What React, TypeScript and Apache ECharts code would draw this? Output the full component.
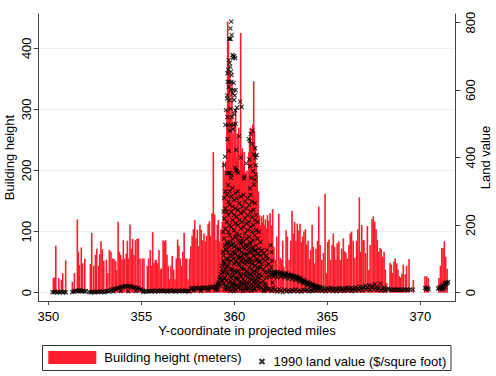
import React, { useEffect, useRef } from "react";
import * as echarts from "echarts";

// ---------- ticks ----------
const xTicks = [350, 355, 360, 365, 370];
const leftTicks = [0, 100, 200, 300, 400];
const rightTicks = [0, 200, 400, 600, 800];

// ---------- building height bars [y-coordinate, height] ----------
const buildingWest: number[][] = [
  [350.27, 24], [350.33, 25], [350.40, 77], [350.56, 24], [350.70, 21], [350.77, 32], [350.93, 53],
  [351.29, 18], [351.40, 32], [351.56, 120], [351.61, 67], [351.67, 45], [351.77, 74], [351.84, 48], [351.96, 56],
  [352.26, 47], [352.33, 98], [352.44, 44], [352.53, 62], [352.60, 72], [352.71, 44], [352.76, 63], [352.83, 84],
  [352.90, 71], [352.98, 52], [353.12, 54], [353.19, 32], [353.28, 70], [353.37, 67], [353.46, 56], [353.53, 55],
  [353.62, 52], [353.67, 37], [353.75, 116], [353.82, 67], [353.89, 62], [353.96, 54], [354.03, 86], [354.10, 56],
  [354.19, 64], [354.25, 85], [354.32, 56], [354.39, 111], [354.46, 72], [354.53, 88], [354.60, 62], [354.68, 86],
  [354.77, 88], [354.84, 89], [354.93, 56], [355.05, 56], [355.14, 56], [355.32, 44], [355.39, 56], [355.48, 70],
  [355.55, 44], [355.61, 99], [355.68, 48], [355.75, 53], [355.80, 54], [355.88, 48], [355.95, 70], [356.02, 38],
  [356.08, 40], [356.17, 86], [356.24, 84], [356.31, 86], [356.38, 62], [356.45, 44], [356.52, 22], [356.59, 44],
  [356.66, 60], [356.74, 38], [356.81, 22], [356.88, 56], [356.95, 87], [357.02, 77], [357.09, 56], [357.16, 44],
  [357.23, 67], [357.30, 98], [357.37, 56], [357.44, 56], [357.51, 22], [357.59, 56], [357.66, 76], [357.73, 93],
  [357.80, 104], [357.87, 119], [357.94, 89], [358.01, 103], [358.08, 76], [358.15, 111], [358.22, 103], [358.30, 86],
  [358.37, 97], [358.44, 84], [358.51, 93], [358.59, 113], [358.66, 117], [358.73, 93], [358.80, 130], [358.87, 230],
  [358.94, 128], [359.01, 86], [359.08, 111], [359.14, 119], [359.21, 84], [359.28, 103], [359.35, 116], [359.41, 215],
];

const buildingCore: number[][] = [
  [359.45, 190], [359.50, 200], [359.55, 215], [359.60, 300], [359.64, 444], [359.68, 411], [359.72, 330],
  [359.76, 360], [359.80, 290], [359.84, 204], [359.87, 345], [359.91, 260], [359.95, 230], [359.99, 280],
  [360.03, 250], [360.07, 300], [360.11, 220], [360.15, 260], [360.19, 240], [360.24, 270], [360.28, 200],
  [360.34, 425], [360.38, 230], [360.43, 237], [360.48, 210], [360.53, 230], [360.58, 198], [360.63, 185],
  [360.68, 200], [360.73, 190], [360.78, 230], [360.82, 255], [360.86, 270], [360.92, 240], [360.99, 275],
  [361.04, 346], [361.08, 264], [361.13, 240], [361.18, 209], [361.23, 190], [361.29, 166], [361.35, 127],
  [361.40, 110], [361.46, 125], [361.51, 115], [361.56, 127], [361.62, 110], [361.67, 120], [361.72, 105],
  [361.78, 127], [361.84, 118],
];

const buildingEast: number[][] = [
  [361.92, 130], [361.99, 110], [362.06, 137], [362.13, 75], [362.20, 54], [362.28, 92], [362.39, 129],
  [362.46, 57], [362.53, 54], [362.60, 85], [362.66, 43], [362.78, 102], [362.85, 92], [362.94, 54], [363.03, 85],
  [363.10, 134], [363.17, 97], [363.24, 116], [363.31, 85], [363.38, 113], [363.46, 102], [363.53, 113],
  [363.60, 83], [363.67, 92], [363.74, 100], [363.82, 104], [363.89, 79], [363.96, 85], [364.03, 55], [364.10, 70],
  [364.18, 111], [364.25, 75], [364.32, 48], [364.39, 72], [364.47, 85], [364.54, 141], [364.61, 78], [364.70, 54],
  [364.79, 65], [364.88, 162], [364.95, 32], [365.02, 83], [365.09, 87], [365.16, 54], [365.25, 78], [365.32, 97],
  [365.39, 75], [365.46, 54], [365.53, 81], [365.62, 84], [365.69, 54], [365.77, 72], [365.86, 89], [365.93, 68],
  [366.00, 65], [366.07, 56], [366.16, 78], [366.23, 97], [366.30, 100], [366.39, 85], [366.48, 57], [366.57, 85],
  [366.64, 104], [366.72, 156], [366.79, 67], [366.85, 111], [366.92, 86], [366.97, 86], [367.06, 65], [367.15, 109],
  [367.23, 37], [367.30, 78], [367.40, 120], [367.47, 125], [367.55, 116], [367.62, 104], [367.69, 86], [367.76, 67],
  [367.83, 73], [367.90, 71], [367.98, 59], [368.05, 67], [368.12, 38], [368.19, 16], [368.37, 49], [368.44, 46],
  [368.51, 32], [368.58, 51], [368.65, 56], [368.73, 48], [368.80, 38], [368.87, 27], [368.94, 25], [369.01, 31],
  [369.08, 46], [369.19, 30], [369.26, 44], [369.39, 55], [369.62, 21], [370.25, 27], [370.34, 27], [370.43, 24],
  [371.00, 24], [371.08, 44], [371.15, 73], [371.22, 73], [371.29, 84], [371.36, 59], [371.44, 39],
];

// ---------- 1990 land value points [y-coordinate, $/sq ft] ----------
const landWest: number[][] = [
  [350.22, 2], [350.30, 1], [350.38, 3], [350.46, 1], [350.54, 2], [350.62, 1], [350.70, 3], [350.78, 1], [350.86, 2], [350.94, 1],
  [351.28, 2], [351.36, 3], [351.44, 5], [351.52, 6], [351.58, 4], [351.64, 7], [351.70, 5], [351.76, 6], [351.82, 4], [351.88, 6], [351.95, 3], [352.02, 5],
  [352.20, 2], [352.28, 1], [352.36, 3], [352.44, 2], [352.52, 1], [352.60, 3], [352.68, 2], [352.76, 4], [352.84, 2], [352.92, 3], [353.00, 1], [353.08, 4], [353.16, 5], [353.24, 3],
  [353.32, 6], [353.40, 8], [353.48, 10], [353.56, 12], [353.64, 9], [353.72, 14], [353.80, 13], [353.88, 16], [353.96, 18], [354.04, 17], [354.12, 20], [354.20, 19],
  [354.28, 18], [354.36, 20], [354.44, 17], [354.52, 18], [354.60, 15], [354.68, 16], [354.76, 12], [354.84, 14], [354.92, 10], [355.00, 9], [355.08, 6], [355.16, 5], [355.24, 4],
  [353.50, 3], [353.90, 5], [354.30, 4], [354.70, 5], [355.10, 2],
  [355.34, 3], [355.42, 5], [355.50, 4], [355.58, 6], [355.66, 5], [355.74, 3], [355.82, 6], [355.90, 4], [355.98, 5], [356.06, 7], [356.14, 5], [356.22, 4], [356.30, 6],
  [356.38, 3], [356.46, 5], [356.54, 7], [356.62, 4], [356.70, 6], [356.78, 5], [356.86, 3], [356.94, 6], [357.02, 4], [357.10, 5], [357.18, 7], [357.26, 5], [357.34, 4], [357.42, 6], [357.50, 5], [357.58, 3],
  [357.66, 12], [357.74, 14], [357.82, 10], [357.90, 13], [357.98, 15], [358.06, 11], [358.14, 14], [358.22, 12], [358.30, 16], [358.38, 13], [358.46, 15], [358.54, 12],
  [358.62, 14], [358.70, 17], [358.78, 15], [358.86, 18], [358.94, 14], [359.02, 20], [359.10, 25], [359.18, 30], [357.80, 6], [358.20, 5], [358.60, 7], [359.00, 8],
  [359.20, 40], [359.28, 55], [359.34, 70], [359.36, 35], [359.40, 95],
  [359.05, 15], [359.12, 10], [359.15, 28], [359.22, 20], [359.25, 45], [359.30, 35], [359.32, 80], [359.35, 60], [359.38, 120], [359.40, 180], [359.42, 240],
];

const landCoreHigh: number[][] = [
  [359.83, 803], [359.79, 783], [359.86, 764], [359.72, 752], [359.80, 752], [359.76, 752],
  [360.00, 701], [359.93, 695], [359.70, 689], [359.95, 700], [360.05, 695], [359.90, 705],
  [359.75, 680], [359.67, 660], [359.62, 650], [359.85, 645], [359.78, 670], [359.82, 655],
  [359.64, 625], [359.73, 625], [359.85, 625], [359.96, 622], [359.70, 610], [359.81, 600], [359.96, 600], [360.07, 600], [359.91, 590],
  [359.62, 585], [359.74, 570], [360.02, 585], [359.61, 575], [359.99, 571], [360.31, 566], [360.39, 551], [360.14, 548], [359.55, 541],
  [359.62, 520], [359.98, 530], [360.05, 540], [359.80, 545], [359.88, 520],
  [359.52, 497], [359.66, 497], [359.82, 497], [359.96, 497], [360.07, 500], [359.75, 480], [359.93, 485], [360.26, 464], [359.62, 455],
  [360.98, 480], [360.88, 470], [360.84, 450], [360.78, 455], [360.95, 440], [361.05, 410], [361.00, 360], [360.90, 340], [361.10, 335], [360.80, 395], [361.17, 350],
  [361.11, 428], [360.09, 423], [361.20, 408], [359.50, 403], [361.14, 400], [359.70, 420],
  [360.09, 363], [360.14, 360], [360.52, 339], [359.75, 354], [359.82, 340], [359.66, 319], [361.06, 320], [360.84, 309], [359.45, 378],
  [359.60, 354], [359.70, 354], [359.85, 350], [360.05, 370], [360.20, 355], [360.65, 383], [360.85, 375], [361.15, 378], [360.35, 400], [360.55, 345],
];

const landCoreMid: number[][] = [
  [359.45, 280], [359.45, 220], [359.45, 160], [359.45, 90], [359.45, 40],
  [359.52, 300], [359.52, 250], [359.52, 190], [359.52, 130], [359.52, 70], [359.52, 20],
  [359.60, 290], [359.60, 240], [359.60, 210], [359.60, 150], [359.60, 100], [359.60, 60], [359.60, 10],
  [359.68, 270], [359.68, 230], [359.68, 180], [359.68, 120], [359.68, 80], [359.68, 30],
  [359.75, 300], [359.75, 260], [359.75, 200], [359.75, 170], [359.75, 110], [359.75, 50], [359.75, 15],
  [359.83, 285], [359.83, 240], [359.83, 195], [359.83, 140], [359.83, 95], [359.83, 45],
  [359.90, 310], [359.90, 255], [359.90, 215], [359.90, 160], [359.90, 120], [359.90, 70], [359.90, 25],
  [359.98, 275], [359.98, 230], [359.98, 185], [359.98, 135], [359.98, 85], [359.98, 35], [359.98, 5],
  [360.05, 295], [360.05, 250], [360.05, 205], [360.05, 165], [360.05, 115], [360.05, 60], [360.05, 20],
  [360.12, 280], [360.12, 225], [360.12, 175], [360.12, 130], [360.12, 90], [360.12, 40],
  [360.20, 300], [360.20, 245], [360.20, 200], [360.20, 155], [360.20, 105], [360.20, 65], [360.20, 15],
  [360.27, 265], [360.27, 215], [360.27, 170], [360.27, 125], [360.27, 80], [360.27, 30],
  [360.35, 285], [360.35, 235], [360.35, 190], [360.35, 145], [360.35, 95], [360.35, 50], [360.35, 10],
  [360.42, 255], [360.42, 210], [360.42, 160], [360.42, 110], [360.42, 70], [360.42, 25],
  [360.50, 290], [360.50, 240], [360.50, 195], [360.50, 150], [360.50, 100], [360.50, 55], [360.50, 12],
  [360.57, 270], [360.57, 220], [360.57, 175], [360.57, 130], [360.57, 85], [360.57, 35],
  [360.65, 250], [360.65, 205], [360.65, 160], [360.65, 115], [360.65, 65], [360.65, 20],
  [360.72, 280], [360.72, 230], [360.72, 185], [360.72, 140], [360.72, 90], [360.72, 45], [360.72, 8],
  [360.80, 260], [360.80, 210], [360.80, 165], [360.80, 120], [360.80, 75], [360.80, 30],
  [360.87, 290], [360.87, 240], [360.87, 195], [360.87, 150], [360.87, 100], [360.87, 55], [360.87, 15],
  [360.95, 270], [360.95, 225], [360.95, 180], [360.95, 130], [360.95, 85], [360.95, 40],
  [361.02, 245], [361.02, 200], [361.02, 155], [361.02, 110], [361.02, 60], [361.02, 20],
  [361.10, 265], [361.10, 215], [361.10, 170], [361.10, 125], [361.10, 80], [361.10, 35], [361.10, 10],
  [361.17, 230], [361.17, 185], [361.17, 140], [361.17, 95], [361.17, 50],
  [361.25, 210], [361.25, 160], [361.25, 115], [361.25, 70], [361.25, 25],
  [361.32, 180], [361.32, 130], [361.32, 90], [361.32, 45], [361.32, 12],
  [361.40, 150], [361.40, 110], [361.40, 75], [361.40, 30],
  [361.48, 125], [361.48, 85], [361.48, 50], [361.48, 15],
  [361.56, 115], [361.56, 100], [361.56, 70], [361.56, 35], [361.56, 8],
  [361.64, 95], [361.64, 60], [361.64, 25],
  [361.72, 110], [361.72, 80], [361.72, 45], [361.72, 12],
];

const landCoreLow: number[][] = [
  [359.42, 60], [359.42, 25], [359.42, 110],
  [359.49, 140], [359.49, 85], [359.49, 45], [359.49, 10],
  [359.57, 125], [359.57, 75], [359.57, 35],
  [359.64, 145], [359.64, 100], [359.64, 55], [359.64, 18],
  [359.72, 135], [359.72, 90], [359.72, 30],
  [359.79, 150], [359.79, 70], [359.79, 35], [359.79, 5],
  [359.87, 110], [359.87, 60], [359.87, 20],
  [359.94, 145], [359.94, 100], [359.94, 50], [359.94, 12],
  [360.01, 120], [360.01, 65], [360.01, 25],
  [360.09, 140], [360.09, 95], [360.09, 45], [360.09, 8],
  [360.16, 110], [360.16, 60], [360.16, 22],
  [360.23, 130], [360.23, 85], [360.23, 40],
  [360.31, 150], [360.31, 105], [360.31, 55], [360.31, 18],
  [360.38, 120], [360.38, 75], [360.38, 30],
  [360.46, 135], [360.46, 90], [360.46, 40], [360.46, 5],
  [360.53, 115], [360.53, 70], [360.53, 25],
  [360.61, 140], [360.61, 95], [360.61, 50], [360.61, 12],
  [360.68, 110], [360.68, 60], [360.68, 28],
  [360.76, 130], [360.76, 100], [360.76, 55], [360.76, 15],
  [360.83, 145], [360.83, 90], [360.83, 40],
  [360.91, 120], [360.91, 70], [360.91, 25], [360.91, 6],
  [360.98, 135], [360.98, 95], [360.98, 50],
  [361.06, 110], [361.06, 65], [361.06, 30], [361.06, 10],
  [361.13, 125], [361.13, 80], [361.13, 40],
  [361.21, 100], [361.21, 60], [361.21, 20],
  [361.28, 115], [361.28, 75], [361.28, 35],
  [361.36, 95], [361.36, 55], [361.36, 20],
  [361.75, 126], [361.80, 100], [361.85, 85], [361.90, 65], [361.78, 60], [361.88, 46], [361.70, 20], [361.82, 10], [361.60, 5],
  [361.95, 140], [362.00, 120], [362.03, 95], [361.98, 75], [362.05, 30],
];

const landEast: number[][] = [
  [361.95, 55], [362.00, 60], [362.05, 52], [362.10, 58], [362.15, 62], [362.20, 55], [362.25, 60], [362.30, 57], [362.35, 62], [362.40, 54],
  [362.45, 58], [362.50, 61], [362.55, 55], [362.60, 57], [362.65, 52], [362.70, 56], [362.75, 54], [362.80, 58], [362.85, 50], [362.90, 55],
  [362.95, 52], [363.00, 48], [363.05, 53], [363.10, 50], [363.15, 46], [363.20, 50], [363.25, 47], [363.30, 44], [363.35, 48], [363.40, 42],
  [363.45, 45], [363.50, 40], [363.55, 43], [363.60, 38], [363.65, 35], [363.70, 38], [363.75, 32], [363.80, 34], [363.85, 30], [363.90, 28],
  [363.95, 31], [364.00, 26], [364.05, 28], [364.10, 24], [364.15, 22], [364.20, 25], [364.25, 20], [364.30, 22], [364.35, 18], [364.40, 20],
  [364.45, 16], [364.50, 18], [364.55, 15], [364.60, 17],
  [362.10, 48], [362.30, 45], [362.50, 48], [362.70, 45], [362.90, 42], [363.10, 40], [363.30, 37], [363.50, 33], [363.70, 28], [363.90, 22], [364.10, 17], [364.30, 14],
  [361.90, 12], [362.00, 5], [362.10, 15], [362.20, 8], [362.30, 3], [362.40, 10], [362.50, 6], [362.60, 2], [362.70, 9], [362.80, 4], [362.90, 7],
  [363.00, 3], [363.10, 8], [363.20, 5], [363.30, 10], [363.40, 4], [363.50, 7], [363.60, 3], [363.70, 9], [363.80, 6], [363.90, 8], [364.00, 4],
  [364.10, 7], [364.20, 5], [364.30, 9], [364.40, 6], [364.50, 8],
  [364.65, 12], [364.75, 14], [364.85, 10], [364.95, 13], [365.05, 11], [365.15, 14], [365.25, 12], [365.35, 10], [365.45, 13], [365.55, 11],
  [365.65, 14], [365.75, 12], [365.85, 10], [365.95, 13], [366.05, 15], [366.15, 12], [366.25, 14], [366.35, 11], [366.45, 13], [366.55, 16],
  [366.65, 12], [366.75, 18], [366.85, 14], [366.95, 16], [367.05, 20], [367.15, 15], [367.25, 22], [367.35, 17], [367.45, 19], [367.55, 25],
  [367.65, 16], [367.75, 14], [367.85, 27], [367.95, 12], [368.05, 15], [368.15, 10], [368.25, 12],
  [364.70, 5], [364.90, 4], [365.10, 6], [365.30, 5], [365.50, 4], [365.70, 6], [365.90, 5], [366.10, 7], [366.30, 5], [366.50, 6],
  [366.70, 8], [366.90, 7], [367.10, 9], [367.30, 8], [367.50, 10], [367.70, 8], [367.90, 7], [368.10, 6],
  [368.35, 9], [368.45, 8], [368.55, 10], [368.65, 9], [368.75, 8], [368.85, 10], [368.95, 9], [369.05, 8], [369.15, 10], [369.25, 9],
  [369.35, 8], [369.45, 10], [369.60, 9],
  [370.25, 14], [370.30, 10], [370.35, 15], [370.40, 12], [370.45, 10],
  [370.95, 12], [371.00, 15], [371.05, 13], [371.10, 18], [371.15, 16], [371.20, 22], [371.25, 20], [371.30, 28], [371.35, 25], [371.40, 30],
  [371.45, 28], [371.50, 32], [371.15, 10], [371.25, 12], [371.35, 15],
];

const barName = "Building height (meters)";
const landName = "1990 land value ($/squre foot)";
const xMark = "path://M0,0L10,10M10,0L0,10";
const FONT = "'Liberation Sans', Arial, Helvetica, sans-serif";
const RED = "#fd1d2d";

export default function App() {
  const ref = useRef<HTMLDivElement>(null);
  useEffect(() => {
    if (!ref.current) return;
    const chart = echarts.init(ref.current, undefined, { renderer: "svg" });
    const bars = [...buildingWest, ...buildingCore, ...buildingEast];
    const land = [...landWest, ...landCoreHigh, ...landCoreMid, ...landCoreLow, ...landEast];
    const axisColor = "#444";
    chart.setOption({
      animation: false,
      backgroundColor: "#ffffff",
      textStyle: { fontFamily: FONT },
      grid: { left: 38.5, right: 40.5, top: 14, bottom: 75, containLabel: false, outerBoundsMode: "none" },
      xAxis: {
        type: "value",
        min: 349.47,
        max: 371.89,
        name: "Y-coordinate in projected miles",
        nameLocation: "middle",
        nameGap: 23,
        nameMoveOverlap: false,
        nameTextStyle: { fontSize: 13, color: "#000", fontFamily: FONT },
        axisLine: { show: true, onZero: false, lineStyle: { color: axisColor, width: 1 } },
        axisTick: { show: true, length: 4, customValues: xTicks, lineStyle: { color: axisColor } },
        axisLabel: { customValues: xTicks, fontSize: 13, color: "#000", margin: 9, fontFamily: FONT },
        splitLine: { show: false },
      },
      yAxis: [
        {
          type: "value",
          position: "left",
          min: -13.6,
          max: 456.1,
          name: "Building height",
          nameLocation: "middle",
          nameRotate: 90,
          nameGap: 23,
          nameMoveOverlap: false,
          nameTextStyle: { fontSize: 13, color: "#000", fontFamily: FONT },
          axisLine: { show: true, lineStyle: { color: axisColor, width: 1 } },
          axisTick: { show: true, length: 5, customValues: leftTicks, lineStyle: { color: axisColor } },
          axisLabel: { customValues: leftTicks, rotate: 90, fontSize: 13, color: "#000", margin: 6, fontFamily: FONT },
          splitLine: { show: true, lineStyle: { color: "#e6eff2", width: 1 } },
        },
        {
          type: "value",
          position: "right",
          min: -24.6,
          max: 825.8,
          name: "Land value",
          nameLocation: "middle",
          nameRotate: 90,
          nameGap: 23.5,
          nameMoveOverlap: false,
          nameTextStyle: { fontSize: 13, color: "#000", fontFamily: FONT },
          axisLine: { show: true, lineStyle: { color: axisColor, width: 1 } },
          axisTick: { show: true, length: 5, customValues: rightTicks, lineStyle: { color: axisColor } },
          axisLabel: { customValues: rightTicks, rotate: 90, fontSize: 13, color: "#000", margin: 8, fontFamily: FONT },
          splitLine: { show: false },
        },
      ],
      legend: [
        {
          left: 48.3,
          top: 351,
          padding: 0,
          itemWidth: 48,
          itemHeight: 13,
          selectedMode: false,
          data: [{ name: barName, icon: "rect" }],
          textStyle: { fontSize: 13, color: "#000", fontFamily: FONT, padding: [0, 0, 0, 3] },
        },
        {
          left: 258.5,
          top: 355,
          padding: 0,
          itemWidth: 5,
          itemHeight: 5,
          selectedMode: false,
          data: [{ name: landName, icon: xMark }],
          textStyle: { fontSize: 13, color: "#000", fontFamily: FONT, padding: [0, 0, 0, 4] },
        },
      ],
      graphic: [
        {
          type: "rect",
          shape: { x: 42.5, y: 345.5, width: 408.5, height: 25 },
          style: { fill: "none", stroke: "#333", lineWidth: 1 },
          silent: true,
        },
      ],
      series: [
        {
          name: barName,
          type: "bar",
          xAxisIndex: 0,
          yAxisIndex: 0,
          barWidth: 1.6,
          itemStyle: { color: RED },
          data: bars,
        },
        {
          name: landName,
          type: "scatter",
          xAxisIndex: 0,
          yAxisIndex: 1,
          symbol: xMark,
          symbolSize: 4,
          itemStyle: { color: "transparent", borderColor: "#000", borderWidth: 1.1 },
          data: land,
        },
      ],
    });
    return () => chart.dispose();
  }, []);
  return (
    <div
      ref={ref}
      style={{ position: "fixed", left: 0, top: 0, width: 496, height: 376, background: "#fff" }}
    />
  );
}
